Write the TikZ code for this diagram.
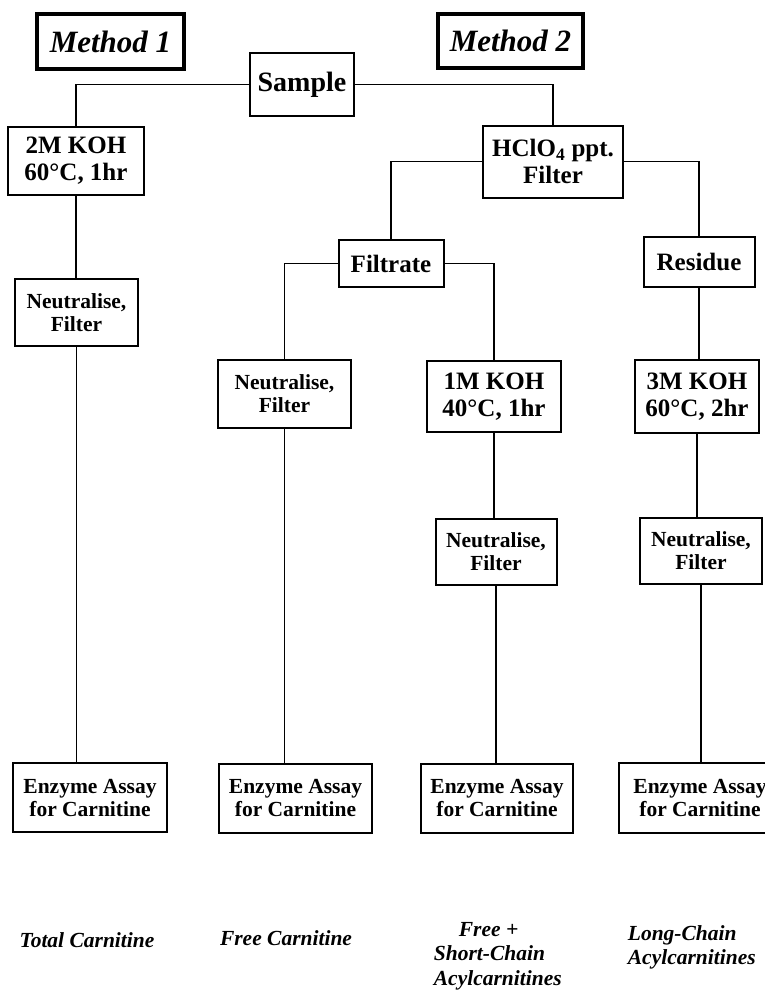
\documentclass[tikz,border=0pt]{standalone}
\usepackage{fontspec}
\setmainfont{Liberation Serif}

\begin{document}
\begin{tikzpicture}[x=1pt, y=-1pt, line width=1.8pt,
      every node/.append style={inner sep=2pt, align=center},
      box/.style={draw, line width=2pt},
      method/.style={draw, line width=3.2pt, font=\bfseries\itshape\fontsize{31}{34}\selectfont},
      bigbox/.style={box, font=\bfseries\fontsize{25}{27}\selectfont},
      smallbox/.style={box, font=\bfseries\fontsize{21.5}{23}\selectfont},
      result/.style={font=\bfseries\itshape\fontsize{21.5}{24.5}\selectfont, align=left}]
    \useasboundingbox (0,0) rectangle (765,997);
    % headings
    \node (method1) [method, minimum width=147pt, minimum height=55pt] at (110.5,41.5) {Method 1};
    \node (method2) [method, minimum width=145pt, minimum height=54pt] at (510.5,41) {Method 2};
    \node (sample) [box, font=\bfseries\fontsize{28}{30}\selectfont, minimum width=104pt, minimum height=63pt] at (302,84.5) {Sample};
    % method 1
    \node (koh2M) [bigbox, minimum width=136pt, minimum height=68pt] at (76,161) {2M KOH\\60°C, 1hr};
    \node (neut1) [smallbox, minimum width=123pt, minimum height=67pt] at (76.5,312.5) {Neutralise,\\Filter};
    \node (assay1) [smallbox, minimum width=154pt, minimum height=69pt] at (90,797.5) {Enzyme Assay\\for Carnitine};
    % method 2
    \node (hclo) [bigbox, minimum width=140pt, minimum height=72pt] at (553,161.5) {HClO\textsubscript{4} ppt.\\Filter};
    \node (filtrate) [bigbox, minimum width=105pt, minimum height=47pt] at (391,263.5) {Filtrate};
    \node (residue) [bigbox, minimum width=111pt, minimum height=50pt] at (699,262) {Residue};
    \node (neut2) [smallbox, minimum width=133pt, minimum height=68pt] at (284.5,394) {Neutralise,\\Filter};
    \node (koh1M) [bigbox, minimum width=134pt, minimum height=71pt] at (494,396.5) {1M KOH\\40°C, 1hr};
    \node (koh3M) [bigbox, minimum width=124pt, minimum height=73pt] at (697,396.5) {3M KOH\\60°C, 2hr};
    \node (neut3) [smallbox, minimum width=121pt, minimum height=66pt] at (496,552) {Neutralise,\\Filter};
    \node (neut4) [smallbox, minimum width=122pt, minimum height=66pt] at (701,551) {Neutralise,\\Filter};
    \node (assay2) [smallbox, minimum width=153pt, minimum height=69pt] at (295.5,798) {Enzyme Assay\\for Carnitine};
    \node (assay3) [smallbox, minimum width=152pt, minimum height=69pt] at (497,798) {Enzyme Assay\\for Carnitine};
    \node (assay4) [smallbox, minimum width=162pt, minimum height=70pt] at (700,797.5) {Enzyme Assay\\for Carnitine};
    % what each assay gives
    \node (total) [result] at (87,940) {Total Carnitine};
    \node (free) [result] at (286,938) {Free Carnitine};
    \node (freeshort) [result, anchor=west] at (431,956) {\hspace*{25pt}Free +\\Short-Chain\\Acylcarnitines};
    \node (longchain) [result, anchor=west] at (625,947.5) {Long-Chain\\Acylcarnitines};
    % connectors
    \draw (sample) -| (koh2M);
    \draw (sample) -| (hclo);
    \draw (koh2M) -- (koh2M |- neut1.north);
    \draw (neut1) -- (neut1 |- assay1.north);
    \draw (hclo) -| (filtrate);
    \draw (hclo) -| (residue);
    \draw (filtrate) -| (neut2);
    \draw (filtrate) -| (koh1M);
    \draw (neut2) -- (neut2 |- assay2.north);
    \draw (koh1M) -- (koh1M |- neut3.north);
    \draw (neut3) -- (neut3 |- assay3.north);
    \draw (residue) -- (residue |- koh3M.north);
    \draw (koh3M) -- (koh3M |- neut4.north);
    \draw (neut4) -- (neut4 |- assay4.north);
\end{tikzpicture}
\end{document}
